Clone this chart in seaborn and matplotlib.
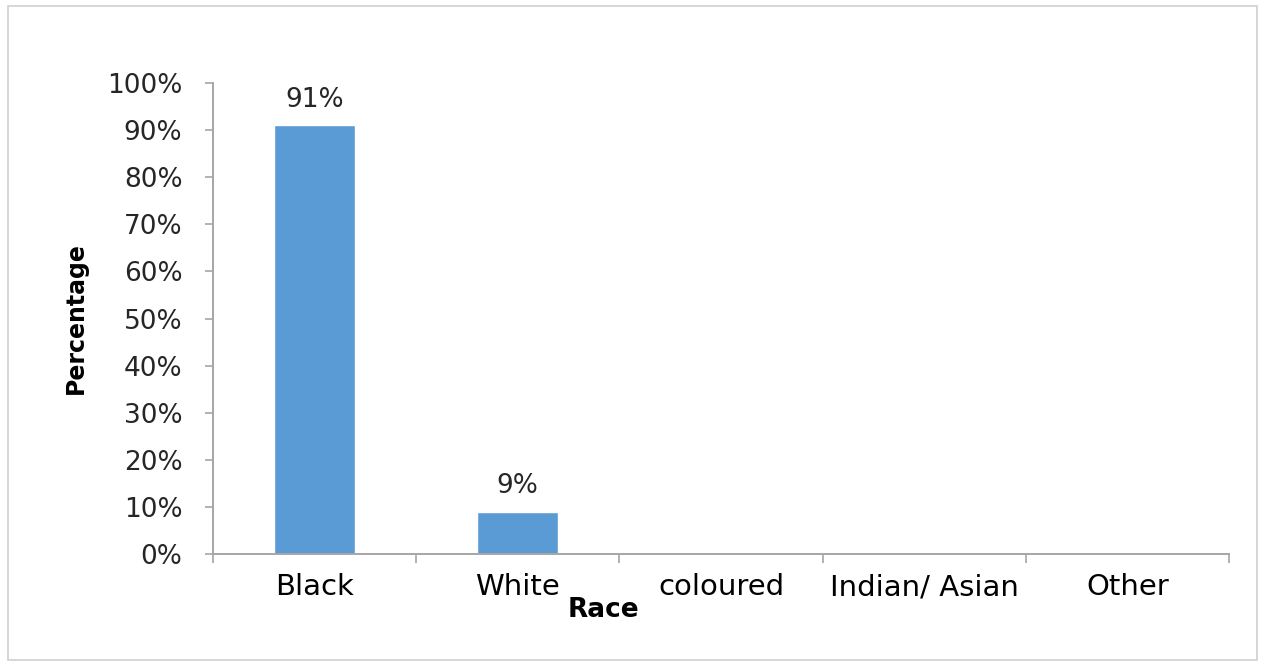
import matplotlib
matplotlib.use("Agg")
import matplotlib.pyplot as plt
from matplotlib.patches import Rectangle
from matplotlib.ticker import PercentFormatter, FixedLocator
import seaborn as sns

# data
races = ["Black", "White", "coloured", "Indian/ Asian", "Other"]
share = [0.91, 0.09, 0.0, 0.0, 0.0]
bar_text = ["91%", "9%", "", "", ""]

sns.set_style("white")
plt.rcParams['font.family'] = ['DejaVu Sans']

fig = plt.figure(figsize=(12.65, 6.65), dpi=100)
ax = fig.add_axes([0.1684, 0.1669, 0.8031, 0.7083])

sns.barplot(x=races, y=share, color="#5B9BD5", width=0.4, saturation=1, ax=ax)

ax.set_ylim(0, 1)
ax.set_xlim(-0.5, len(races) - 0.5)
ax.set_yticks([i / 10 for i in range(11)])
ax.yaxis.set_major_formatter(PercentFormatter(1, decimals=0))

ax.bar_label(ax.containers[0], labels=bar_text, padding=9,
             fontsize=19, color="#262626")

# category boundary ticks like excel
ax.xaxis.set_minor_locator(FixedLocator([i - 0.5 for i in range(len(races) + 1)]))
ax.tick_params(axis="x", which="major", length=0, pad=14, labelsize=21,
               colors="black", bottom=True)
ax.tick_params(axis="x", which="minor", length=6.5, width=1.2, color="#A6A6A6",
               bottom=True)
ax.tick_params(axis="y", which="major", length=6, width=1.2, color="#A6A6A6",
               labelsize=19, labelcolor="#262626", left=True, pad=16)

for s in ["top", "right"]:
    ax.spines[s].set_visible(False)
for s in ["left", "bottom"]:
    ax.spines[s].set_color("#A6A6A6")
    ax.spines[s].set_linewidth(1.4)

ax.set_ylabel("Percentage", fontsize=17, fontweight="bold", color="black",
              labelpad=14)
ax.set_xlabel("Race", fontsize=19, fontweight="bold", color="black")
ax.xaxis.set_label_coords(0.384, -0.091)

# outer chart border
fig.patches.append(Rectangle((8 / 1265, 5 / 665), 1249 / 1265, 654 / 665,
                             transform=fig.transFigure, fill=False,
                             edgecolor="#D0D0D0", linewidth=1.2))

fig.savefig("out.png", dpi=100)
